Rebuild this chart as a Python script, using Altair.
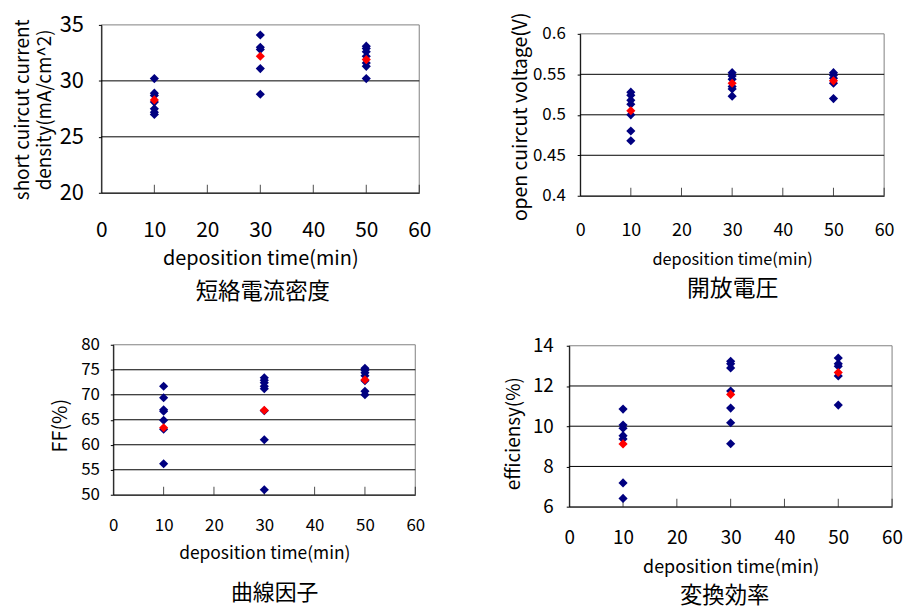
import altair as alt
import pandas as pd

FONT = "Noto Sans CJK JP"
W, H = 895, 592

X_TICKS = [0, 10, 20, 30, 40, 50, 60]
X_INNER_TICKS = [10, 20, 30, 40, 50, 60]
X_TITLE = "deposition time(min)"

# ---- short circuit current density ----
JSC_X = [10, 10, 10, 10, 10, 10, 10, 30, 30, 30, 30, 30, 50, 50, 50, 50, 50, 50, 50]
JSC_Y = [30.2, 28.9, 28.7, 28.1, 27.5, 27.2, 27.0,
         34.1, 33.0, 32.8, 31.1, 28.8,
         33.1, 32.9, 32.6, 32.2, 31.6, 31.3, 30.2]
JSC_AVG_X = [10, 30, 50]
JSC_AVG_Y = [28.3, 32.2, 31.9]
JSC_TICKS = [20, 25, 30, 35]
JSC_GRID = [25, 30]

# ---- open circuit voltage ----
VOC_X = [10, 10, 10, 10, 10, 10, 10, 30, 30, 30, 30, 30, 30, 50, 50, 50, 50, 50]
VOC_Y = [0.528, 0.524, 0.518, 0.513, 0.500, 0.480, 0.468,
         0.552, 0.548, 0.544, 0.535, 0.532, 0.523,
         0.552, 0.549, 0.545, 0.539, 0.520]
VOC_AVG_X = [10, 30, 50]
VOC_AVG_Y = [0.505, 0.539, 0.542]
VOC_TICKS = [0.4, 0.45, 0.5, 0.55, 0.6]
VOC_GRID = [0.45, 0.5, 0.55]

# ---- fill factor ----
FF_X = [10, 10, 10, 10, 10, 10, 10, 30, 30, 30, 30, 30, 30, 30, 30, 50, 50, 50, 50, 50, 50, 50]
FF_Y = [71.7, 69.4, 67.0, 66.7, 64.9, 63.1, 56.2,
        73.4, 72.9, 72.4, 71.7, 71.2, 66.8, 61.0, 51.0,
        75.3, 74.9, 74.4, 73.8, 72.8, 70.7, 70.0]
FF_AVG_X = [10, 30, 50]
FF_AVG_Y = [63.4, 66.9, 73.0]
FF_TICKS = [50, 55, 60, 65, 70, 75, 80]
FF_GRID = [55, 60, 65, 70, 75]

# ---- efficiency ----
EFF_X = [10, 10, 10, 10, 10, 10, 10, 30, 30, 30, 30, 30, 30, 30, 50, 50, 50, 50, 50]
EFF_Y = [10.85, 10.06, 9.9, 9.53, 9.37, 7.18, 6.41,
         13.23, 13.1, 12.9, 11.75, 10.9, 10.17, 9.13,
         13.39, 13.1, 12.98, 12.5, 11.05]
EFF_AVG_X = [10, 30, 50]
EFF_AVG_Y = [9.12, 11.58, 12.67]
EFF_TICKS = [6, 8, 10, 12, 14]
EFF_GRID = [8, 10, 12]


def panel(xs, ys, ax, ay, yticks, ygrid, c):
    xr, yr = c["xr"], c["yr"]
    xs_ = alt.Scale(domain=[X_TICKS[0], X_TICKS[-1]], range=xr, nice=False, zero=False)
    ys_ = alt.Scale(domain=[yticks[0], yticks[-1]], range=yr, nice=False, zero=False)

    pts = pd.DataFrame({"x": xs, "y": ys})
    avg = pd.DataFrame({"x": ax, "y": ay})
    grid = pd.DataFrame({"v": ygrid, "x0": [X_TICKS[0]] * len(ygrid), "x1": [X_TICKS[-1]] * len(ygrid)})
    tk = pd.DataFrame({"t": X_INNER_TICKS, "b": [yticks[0]] * len(X_INNER_TICKS)})
    box = pd.DataFrame({"x0": [X_TICKS[0]], "x1": [X_TICKS[-1]], "y0": [yticks[0]], "y1": [yticks[-1]]})

    x_axis = alt.Axis(orient="bottom", offset=yr[0] - H, values=X_TICKS, grid=False,
                      ticks=False, tickSize=0, domainColor="black", labelFlush=False,
                      labelOverlap=False, labelFontSize=c["lfs"], labelPadding=c["xlp"],
                      title=X_TITLE, titleFontSize=c["xtfs"], titleBaseline="alphabetic",
                      titleY=c["xty"], zindex=2)
    y_axis = alt.Axis(orient="left", offset=-xr[0], values=yticks, grid=False,
                      tickSize=3, domainColor="black", labelFlush=False, labelOverlap=False,
                      format="~g", labelFontSize=c["ylfs"], labelPadding=c["ylp"],
                      title=c["ytitle"], titleFontSize=c["ytfs"], titleLineHeight=22,
                      titleX=c["ytx"], titleY=c["yty"], zindex=2)
    sub_axis = alt.Axis(orient="bottom", offset=yr[0] - H, domain=False, ticks=False,
                        labels=False, grid=False, title=c["sub"], titleFontSize=c["sfs"],
                        titleBaseline="alphabetic", titleX=c["stx"], titleY=c["sty"])

    rect = alt.Chart(box).mark_rect(fillOpacity=0, stroke="#808080", strokeWidth=1).encode(
        x=alt.X("x0:Q", scale=xs_, axis=None), x2="x1:Q",
        y=alt.Y("y0:Q", scale=ys_, axis=None), y2="y1:Q")
    rules = alt.Chart(grid).mark_rule(color="black", strokeWidth=1).encode(
        x=alt.X("x0:Q", scale=xs_, axis=None), x2="x1:Q",
        y=alt.Y("v:Q", scale=ys_, axis=None))
    ticks = alt.Chart(tk).mark_tick(orient="vertical", size=8, thickness=1, yOffset=-4,
                                    color="black").encode(
        x=alt.X("t:Q", scale=xs_, axis=None),
        y=alt.Y("b:Q", scale=ys_, axis=None))
    blue = alt.Chart(pts).mark_point(shape="diamond", filled=True, size=85, opacity=1,
                                     color="#000080").encode(
        x=alt.X("x:Q", scale=xs_, axis=x_axis),
        y=alt.Y("y:Q", scale=ys_, axis=y_axis))
    red = alt.Chart(avg).mark_point(shape="diamond", filled=True, size=85, opacity=1,
                                    color="#FF0000").encode(
        x=alt.X("x:Q", scale=xs_, axis=sub_axis),
        y=alt.Y("y:Q", scale=ys_, axis=None))
    return alt.layer(rect, rules, ticks, blue, red).resolve_axis(x="independent", y="independent")


p1 = panel(JSC_X, JSC_Y, JSC_AVG_X, JSC_AVG_Y, JSC_TICKS, JSC_GRID, dict(
    xr=[94, 414], yr=[184, 15], lfs=21, ylfs=22, xlp=27, ylp=15, xtfs=20, xty=72,
    ytitle=["short cuircut current", "density(mA/cm^2)"], ytfs=19, ytx=-69, yty=100,
    sub="短絡電流密度", sfs=22.5, stx=256, sty=106))
p2 = panel(VOC_X, VOC_Y, VOC_AVG_X, VOC_AVG_Y, VOC_TICKS, VOC_GRID, dict(
    xr=[576, 882], yr=[187, 24], lfs=18, ylfs=17, xlp=26, ylp=12, xtfs=16.4, xty=69,
    ytitle="open cuircut voltage(V)", ytfs=19.5, ytx=-50, yty=107,
    sub="開放電圧", sfs=23, stx=729, sty=100))
p3 = panel(FF_X, FF_Y, FF_AVG_X, FF_AVG_Y, FF_TICKS, FF_GRID, dict(
    xr=[106, 410], yr=[488, 337], lfs=17, ylfs=17, xlp=23, ylp=11, xtfs=17.5, xty=64,
    ytitle="FF(%)", ytfs=20, ytx=-43, yty=418,
    sub="曲線因子", sfs=22, stx=268, sty=105))
p4 = panel(EFF_X, EFF_Y, EFF_AVG_X, EFF_AVG_Y, EFF_TICKS, EFF_GRID, dict(
    xr=[565, 890], yr=[500, 338], lfs=19, ylfs=19, xlp=22, ylp=13, xtfs=18, xty=66,
    ytitle="efficiensy(%)", ytfs=19, ytx=-46, yty=426,
    sub="変換効率", sfs=22.5, stx=721, sty=96))

chart = alt.layer(p1, p2, p3, p4).resolve_scale(
    x="independent", y="independent"
).properties(
    width=W, height=H, padding=0, background="white"
).configure_view(strokeWidth=0).configure_axis(
    labelFont=FONT, titleFont=FONT, labelColor="black", titleColor="black",
    titleFontWeight="normal", tickColor="black", domainColor="black", domainWidth=1
)

chart.save("out.html", embed_options={"renderer": "svg", "actions": False})
